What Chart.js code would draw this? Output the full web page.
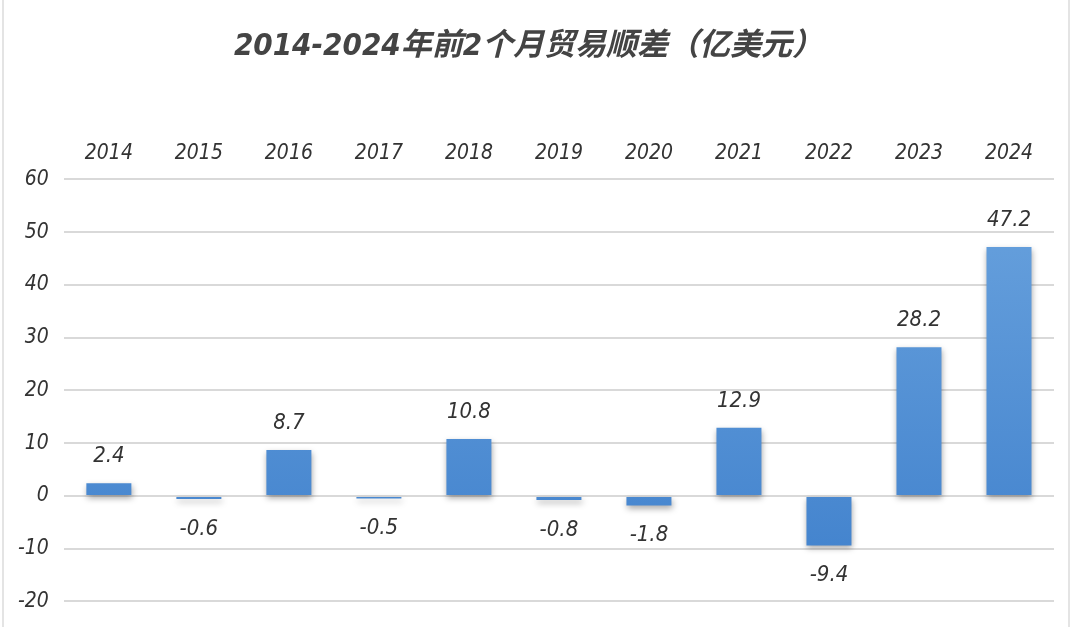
<!DOCTYPE html>
<html>
<head>
<meta charset="utf-8">
<script src="https://cdn.jsdelivr.net/npm/chart.js@4"></script>
<style>
  html, body { margin: 0; padding: 0; background: #fff; }
  #wrap { position: relative; width: 1080px; height: 629px; }
  #frame { position: absolute; left: 2px; top: 0; width: 1068px; height: 627px; border-left: 2px solid #e4e4e4; border-right: 2px solid #e4e4e4; box-sizing: border-box; pointer-events: none; }
</style>
</head>
<body>
<div id="wrap">
  <canvas id="chart" width="1080" height="629"></canvas>
  <div id="frame"></div>
</div>
<script>
const years = ['2014', '2015', '2016', '2017', '2018', '2019', '2020', '2021', '2022', '2023', '2024']
const surplus = [2.4, -0.6, 8.7, -0.5, 10.8, -0.8, -1.8, 12.9, -9.4, 28.2, 47.2]
const titleText = '2014-2024年前2个月贸易顺差（亿美元）'

const fontFamily = "'DejaVu Sans Condensed', 'Noto Sans CJK SC', sans-serif"

// values above / below each bar
const valueLabels = {
  id: 'valueLabels',
  afterDatasetsDraw(chart) {
    const ctx = chart.ctx
    const meta = chart.getDatasetMeta(0)
    ctx.save()
    ctx.font = 'italic 22px ' + fontFamily
    ctx.fillStyle = '#333'
    ctx.textAlign = 'center'
    ctx.textBaseline = 'middle'
    meta.data.forEach((bar, i) => {
      const v = surplus[i]
      const y = v >= 0 ? bar.y - 27 : bar.y + 30
      ctx.fillText(String(v), bar.x, y)
    })
    ctx.restore()
  }
}

// soft shadow under the bars
const barShadow = {
  id: 'barShadow',
  beforeDatasetDraw(chart) {
    const ctx = chart.ctx
    ctx.save()
    ctx.shadowColor = 'rgba(0,0,0,0.35)'
    ctx.shadowBlur = 6
    ctx.shadowOffsetX = 1
    ctx.shadowOffsetY = 3
  },
  afterDatasetDraw(chart) {
    chart.ctx.restore()
  }
}

const ctx = document.getElementById('chart')
new Chart(ctx, {
  type: 'bar',
  data: {
    labels: years,
    datasets: [{
      data: surplus,
      backgroundColor: (c) => {
        const area = c.chart.chartArea
        if (!area) return '#4a8ad4'
        const g = c.chart.ctx.createLinearGradient(0, area.top, 0, area.bottom)
        g.addColorStop(0, '#6aa3de')
        g.addColorStop(1, '#3f80cc')
        return g
      },
      borderWidth: 0,
      barPercentage: 0.5,
      categoryPercentage: 1
    }]
  },
  options: {
    responsive: false,
    animation: false,
    layout: { padding: { left: 3, right: 26, top: 14, bottom: 21 } },
    plugins: {
      legend: { display: false },
      tooltip: { enabled: false },
      title: {
        display: true,
        text: titleText,
        color: '#444',
        font: { family: fontFamily, size: 31, weight: 'bold', style: 'italic' },
        padding: { top: 14, bottom: 71 }
      }
    },
    scales: {
      x: {
        position: 'top',
        grid: { display: false },
        border: { display: false },
        ticks: {
          color: '#333',
          padding: 5,
          font: { family: fontFamily, size: 21, style: 'italic' }
        }
      },
      y: {
        min: -20,
        max: 60,
        grid: { color: '#d9d9d9', lineWidth: 2, drawTicks: false },
        border: { display: false },
        ticks: {
          stepSize: 10,
          color: '#333',
          padding: 15,
          font: { family: fontFamily, size: 21, style: 'italic' }
        }
      }
    }
  },
  plugins: [barShadow, valueLabels]
})
</script>
</body>
</html>
